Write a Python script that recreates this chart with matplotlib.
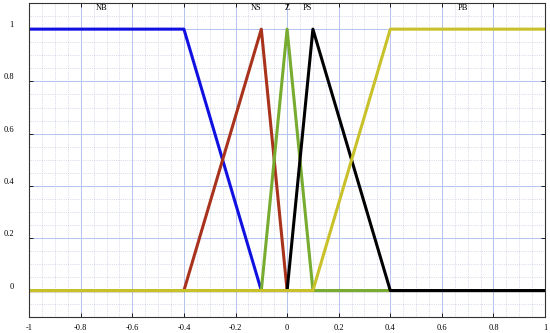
import numpy as np
import matplotlib.pyplot as plt
from matplotlib.ticker import MultipleLocator

# -------------------------
# DATA (membership functions)
# -------------------------
nb_x = [-1, -0.4, -0.1, 1]
nb_y = [1, 1, 0, 0]
ns_x = [-1, -0.4, -0.1, 0, 1]
ns_y = [0, 0, 1, 0, 0]
z_x = [-1, -0.1, 0, 0.1, 1]
z_y = [0, 0, 1, 0, 0]
ps_x = [-1, 0, 0.1, 0.4, 1]
ps_y = [0, 0, 1, 0, 0]
pb_x = [-1, 0.1, 0.4, 1]
pb_y = [0, 0, 1, 1]

labels = ["NB", "NS", "Z", "PS", "PB"]
label_pos = [-0.72, -0.12, 0.0, 0.08, 0.68]

xticks = [-1, -0.8, -0.6, -0.4, -0.2, 0, 0.2, 0.4, 0.6, 0.8, 1]
yticks = [0, 0.2, 0.4, 0.6, 0.8, 1]

# -------------------------
# PLOT
# -------------------------
plt.rcParams['font.family'] = ['Liberation Serif', 'DejaVu Serif']

fig = plt.figure(figsize=(5.5, 3.33), dpi=100)
ax = fig.add_axes([0.053, 0.049, 0.938, 0.942])

ax.plot(nb_x, nb_y, color='#1010e0', lw=2.2)
ax.plot(ns_x, ns_y, color='#a8321c', lw=2.2)
ax.plot(z_x, z_y, color='#77ac30', lw=2.2)
ax.plot(ps_x, ps_y, color='black', lw=2.2)
ax.plot(pb_x, pb_y, color='#c8c12a', lw=2.2)

for lab, xp in zip(labels, label_pos):
    ax.text(xp, 1.095, lab, ha='center', va='top', fontsize=6)

ax.set_xlim(-1, 1)
ax.set_ylim(-0.1, 1.1)
ax.set_xticks(xticks)
ax.set_xticklabels([f"{t:g}" for t in xticks])
ax.set_yticks(yticks)
ax.set_yticklabels([f"{t:g}" for t in yticks])
ax.xaxis.set_minor_locator(MultipleLocator(0.05))
ax.yaxis.set_minor_locator(MultipleLocator(0.05))

ax.grid(which='major', color='#b4c4f0', lw=0.7, ls='-')
ax.grid(which='minor', color='#b8c0d8', lw=0.5, ls=':')
ax.set_axisbelow(True)

ax.tick_params(which='major', direction='in', length=3, width=0.6,
               top=True, right=True, labelsize=6)
ax.tick_params(axis='x', which='major', pad=5)
ax.tick_params(axis='y', which='major', pad=11)
ax.tick_params(which='minor', length=0)
for lbl in ax.get_yticklabels():
    lbl.set_verticalalignment('bottom')
for sp in ax.spines.values():
    sp.set_linewidth(0.8)
    sp.set_color('#333333')

fig.savefig("out.png", dpi=100)
